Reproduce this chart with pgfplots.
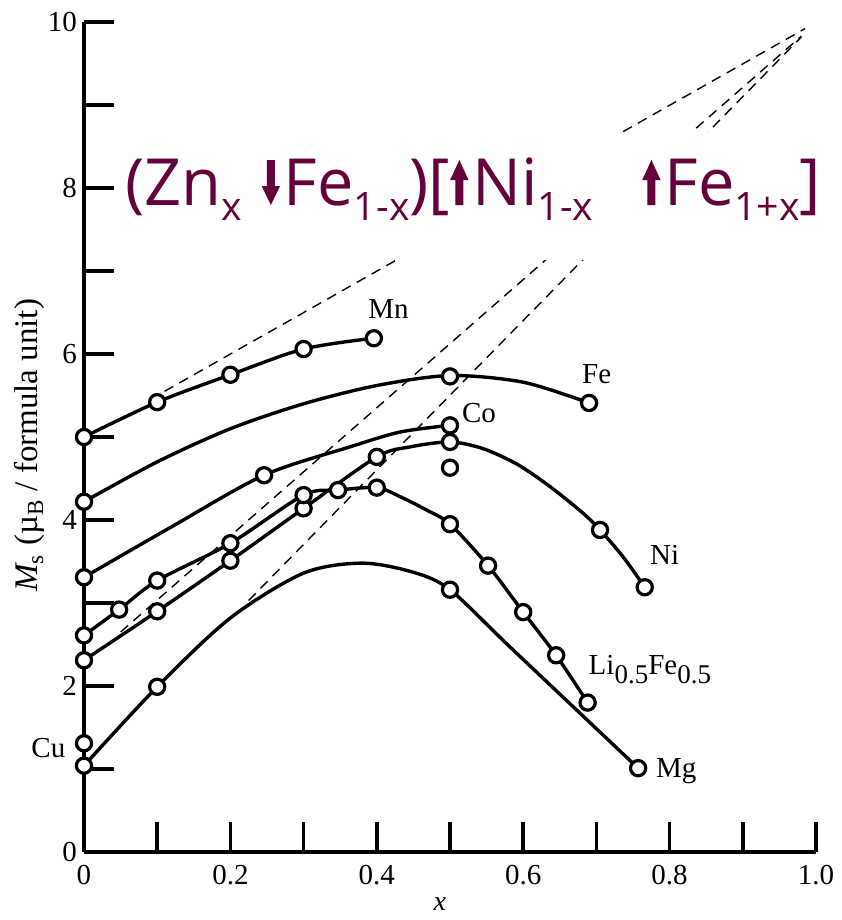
\documentclass[border=0pt]{standalone}
\usepackage{pgfplots}
\pgfplotsset{compat=1.18}
\usepackage{fontspec}
\setmainfont{Liberation Serif}
\newfontfamily\titlefont{Open Sans}
\definecolor{titlecol}{RGB}{100,0,60}
\newcommand{\tsub}[1]{\raisebox{-7.7pt}{\fontsize{19.6}{19.6}\selectfont #1}}
\newcommand{\uarr}{\tikz[baseline=0pt]\fill[titlecol] (-2pt,0) -- (2pt,0) -- (2pt,12.5pt) -- (4.6pt,12.5pt) -- (0,22.5pt) -- (-4.6pt,12.5pt) -- (-2pt,12.5pt) -- cycle;}
\newcommand{\darr}{\tikz[baseline=0pt]\fill[titlecol] (-2pt,22.5pt) -- (2pt,22.5pt) -- (2pt,9.5pt) -- (4.6pt,9.5pt) -- (0,0) -- (-4.6pt,9.5pt) -- (-2pt,9.5pt) -- cycle;}
\begin{document}
\begin{tikzpicture}
\begin{axis}[
  width=366pt, height=415pt, scale only axis,
  xmin=0, xmax=1, ymin=0, ymax=10,
  axis lines*=left,
  axis line style={line width=1.8pt},
  xtick={0,0.1,0.2,0.3,0.4,0.5,0.6,0.7,0.8,0.9,1.0},
  xticklabels={0,,0.2,,0.4,,0.6,,0.8,,1.0},
  ytick={0,1,2,3,4,5,6,7,8,9,10},
  yticklabels={0,,2,,4,,6,,8,,10},
  tick align=inside,
  major tick length=15pt,
  tick style={line width=1.8pt, black},
  tick label style={font=\fontsize{14.5}{14.5}\selectfont},
  xticklabel style={yshift=-3pt},
  ylabel={{\itshape M}\textsubscript{s} (µ\textsubscript{B} / formula unit)},
  ylabel style={at={(axis description cs:-0.074,0.49)}, anchor=center, font=\fontsize{16.5}{16.5}\selectfont},
  xlabel={\itshape x},
  xlabel style={at={(axis description cs:0.486,-0.047)}, anchor=north, font=\fontsize{14}{14}\selectfont},
  clip=false,
  curve/.style={black, line width=1.7pt, smooth, tension=0.5, no marks},
  pts/.style={only marks, mark=*, mark size=3.8pt, mark options={fill=white, draw=black, line width=1.6pt}},
  theo/.style={black, line width=0.7pt, dash pattern=on 5pt off 3.5pt, no marks},
]
% theoretical dashed lines
\addplot[theo] coordinates {(0.11,5.55) (0.985,9.92)};
\addplot[theo] coordinates {(0.05,2.65) (0.98,9.83)};
\addplot[theo] coordinates {(0.225,3.03) (0.98,9.82)};
\fill[white] (axis cs:0.052,7.13) rectangle (axis cs:1.03,8.67);
% Mn
\addplot[curve] coordinates {(0,5.0) (0.1,5.42) (0.2,5.75) (0.3,6.06) (0.396,6.19)};
% Fe
\addplot[curve] coordinates {(0,4.22) (0.1,4.70) (0.2,5.10) (0.3,5.40) (0.4,5.62) (0.5,5.74) (0.6,5.66) (0.69,5.41)};
% Co
\addplot[curve] coordinates {(0,3.31) (0.12,3.92) (0.246,4.54) (0.363,4.88) (0.432,5.06) (0.5,5.14)};
% Ni
\addplot[curve] coordinates {(0,2.31) (0.1,2.90) (0.2,3.51) (0.3,4.14) (0.4,4.76) (0.445,4.88) (0.5,4.94) (0.545,4.86) (0.592,4.67) (0.637,4.40) (0.682,4.08) (0.705,3.88) (0.737,3.55) (0.766,3.19)};
% Li0.5Fe0.5
\addplot[curve] coordinates {(0,2.61) (0.048,2.92) (0.1,3.27) (0.2,3.72) (0.3,4.30) (0.347,4.36) (0.4,4.39) (0.432,4.28) (0.468,4.12) (0.5,3.95) (0.552,3.45) (0.6,2.89) (0.645,2.37) (0.688,1.80)};
% Mg
\addplot[curve] coordinates {(0,1.04) (0.1,1.99) (0.2,2.82) (0.3,3.36) (0.38,3.48) (0.45,3.37) (0.5,3.16) (0.582,2.47) (0.757,1.01)};
% markers
\addplot[pts] coordinates {(0,5.0) (0.1,5.42) (0.2,5.75) (0.3,6.06) (0.396,6.19)};
\addplot[pts] coordinates {(0,4.22) (0.5,5.73) (0.69,5.41)};
\addplot[pts] coordinates {(0,3.31) (0.246,4.54) (0.5,5.14)};
\addplot[pts] coordinates {(0,2.31) (0.1,2.90) (0.2,3.51) (0.3,4.14) (0.4,4.76) (0.5,4.94) (0.705,3.88) (0.766,3.19)};
\addplot[pts] coordinates {(0,2.61) (0.048,2.92) (0.1,3.27) (0.2,3.72) (0.3,4.30) (0.347,4.36) (0.4,4.39) (0.5,3.95) (0.552,3.45) (0.6,2.89) (0.645,2.37) (0.688,1.80)};
\addplot[pts] coordinates {(0,1.04) (0.1,1.99) (0.5,3.16) (0.757,1.01)};
\addplot[pts] coordinates {(0,1.31) (0.5,4.63)};
% labels
\begin{scope}[every node/.style={inner sep=0pt, font=\fontsize{14.5}{14.5}\selectfont}]
\node[anchor=base west] at (axis cs:0.388,6.43) {Mn};
\node[anchor=base west] at (axis cs:0.680,5.65) {Fe};
\node[anchor=base west] at (axis cs:0.516,5.17) {Co};
\node[anchor=base west] at (axis cs:0.773,3.46) {Ni};
\node[anchor=base west] at (axis cs:0.689,2.14) {Li\raisebox{-4.5pt}{\fontsize{13.5}{13.5}\selectfont 0.5}Fe\raisebox{-4.5pt}{\fontsize{13.5}{13.5}\selectfont 0.5}};
\node[anchor=base west] at (axis cs:0.781,0.90) {Mg};
\node[anchor=base east] at (axis cs:-0.025,1.14) {Cu};
\end{scope}
\coordinate (titlepos) at (axis cs:0.056,7.795);
\coordinate (bbTL) at (axis cs:-0.11475,10.265);
\coordinate (bbBR) at (axis cs:1.03552,-0.8193);
\end{axis}
\node[anchor=base west, inner sep=0pt, text=titlecol, font=\titlefont\fontsize{32.5}{32.5}\selectfont] at (titlepos)
  {(Zn\tsub{x}\hspace{0.3em}\darr\hspace{0.06em}Fe\tsub{1-x})[\uarr\hspace{0.06em}Ni\tsub{1-x}\hspace{0.75em}\uarr\hspace{0.06em}Fe\tsub{1+x}]};
\pgfresetboundingbox
\path[use as bounding box] (bbTL) rectangle (bbBR);
\end{tikzpicture}
\end{document}
